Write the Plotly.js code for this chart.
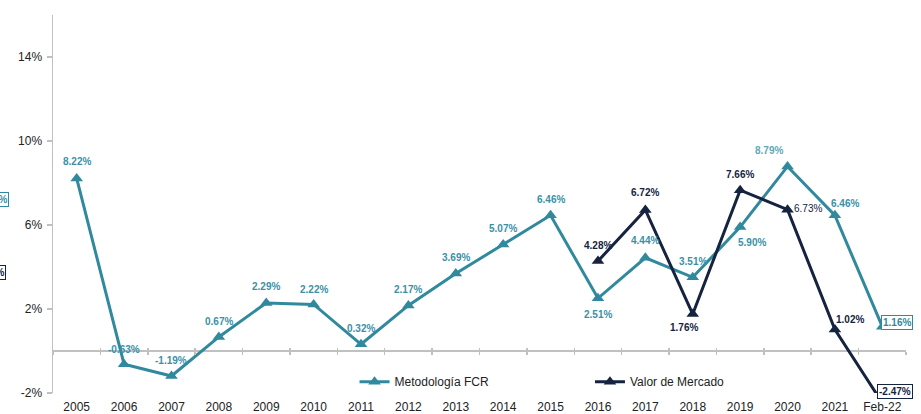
<!DOCTYPE html>
<html><head><meta charset="utf-8">
<script src="https://cdn.plot.ly/plotly-3.0.1.min.js"></script>
<style>html,body{margin:0;padding:0;background:#fff;overflow:hidden}#chart{width:921px;height:414px}</style>
</head><body><div id="chart"></div>
<script>
var categories = ['2005','2006','2007','2008','2009','2010','2011','2012','2013','2014','2015','2016','2017','2018','2019','2020','2021','Feb-22'];
var fcrValues = [8.22,-0.63,-1.19,0.67,2.29,2.22,0.32,2.17,3.69,5.07,6.46,2.51,4.44,3.51,5.90,8.79,6.46,1.16];
var marketCategories = ['2016','2017','2018','2019','2020','2021','Feb-22'];
var marketValues = [4.28,6.72,1.76,7.66,6.73,1.02,-2.47];
var yTickValues = [-2,2,6,10,14];
var seriesNames = ['Metodología FCR','Valor de Mercado'];

// label offsets (style only, px): [xshift, yshift, anchor]
var fcrLabelShift = [[0,17,'c'],[0,15,'c'],[0,15,'c'],[0,15,'c'],[0,16,'c'],[0,15,'c'],[0,16,'c'],[0,16,'c'],[0,16,'c'],[0,16,'c'],[0,16,'c'],[0,-16,'c'],[0,17,'c'],[0,16,'c'],[12,-15,'c'],[-19,16,'c'],[10,12,'c'],[-1,4,'l']];
var mktLabelShift = [[0,16,'c'],[0,17,'c'],[-9,-13,'c'],[0,16,'c'],[5,1,'l'],[0,10,'l'],[-5,11,'l']];

var teal = '#31899e', tealText = '#3b90a6', navy = '#15233f';
var yRange = [-2, 16];

var traces = [
  {x: categories, y: fcrValues, name: seriesNames[0], type: 'scatter', mode: 'lines+markers',
   line: {color: teal, width: 3}, marker: {symbol: 'triangle-up', size: 11, color: teal},
   cliponaxis: false, hoverinfo: 'skip', legend: 'legend'},
  {x: marketCategories, y: marketValues, name: seriesNames[1], type: 'scatter', mode: 'lines+markers',
   line: {color: navy, width: 3}, marker: {symbol: 'triangle-up', size: 11, color: navy},
   cliponaxis: false, hoverinfo: 'skip', legend: 'legend2'},
  {x: categories, y: fcrValues, xaxis: 'x2', type: 'scatter', mode: 'lines', opacity: 0, showlegend: false, hoverinfo: 'skip'},
  {x: categories, y: fcrValues, xaxis: 'x3', type: 'scatter', mode: 'lines', opacity: 0, showlegend: false, hoverinfo: 'skip'}
];

function fmt(v){ return v.toFixed(2) + '%'; }
function makeLabel(cat, v, shift, color, boxed, weight){
  var inRange = v >= yRange[0] && v <= yRange[1];
  return {x: categories.indexOf(cat), xref: 'x',
    y: inRange ? v : (v - yRange[0]) / (yRange[1] - yRange[0]), yref: inRange ? 'y' : 'paper',
    text: fmt(v), showarrow: false, xshift: shift[0], yshift: shift[1],
    xanchor: shift[2] === 'l' ? 'left' : 'center', yanchor: 'middle',
    font: {family: 'Liberation Sans, Arial', size: 10, color: color, weight: weight || 'bold'},
    bordercolor: boxed ? color : 'rgba(0,0,0,0)', borderwidth: boxed ? 1 : 0, borderpad: 1,
    bgcolor: boxed ? '#fff' : 'rgba(0,0,0,0)'};
}
var annotations = [];
fcrValues.forEach(function(v, i){
  var last = i === fcrValues.length - 1;
  annotations.push(makeLabel(categories[i], v, fcrLabelShift[i], i === 15 ? '#62a7b9' : (last ? teal : tealText), last));
});
marketValues.forEach(function(v, i){
  var last = i === marketValues.length - 1;
  annotations.push(makeLabel(marketCategories[i], v, mktLabelShift[i], navy, last, i === 4 ? 'normal' : 'bold'));
});
// cut-off boxes at the left edge
annotations.push({xref: 'paper', yref: 'paper', x: -0.052, y: 0.511, xanchor: 'right', text: '7.19%', showarrow: false,
  font: {family: 'Liberation Sans, Arial', size: 10, color: tealText, weight: 'bold'}, bordercolor: teal, borderwidth: 1, borderpad: 1, bgcolor: '#fff'});
annotations.push({xref: 'paper', yref: 'paper', x: -0.055, y: 0.30, xanchor: 'right', text: '3.38%', showarrow: false,
  font: {family: 'Liberation Sans, Arial', size: 10, color: navy, weight: 'bold'}, bordercolor: navy, borderwidth: 1, borderpad: 1, bgcolor: '#fff'});

var zeroPos = (0 - yRange[0]) / (yRange[1] - yRange[0]);
var layout = {
  width: 921, height: 414,
  margin: {l: 53, r: 15, t: 15, b: 21},
  paper_bgcolor: '#fff', plot_bgcolor: '#fff',
  font: {family: 'Liberation Sans, Arial, sans-serif', size: 12, color: '#222'},
  xaxis: {type: 'category', range: [-0.5, 17.5], showline: false, showgrid: false, zeroline: false, ticks: '',
    tickfont: {size: 12, color: '#222'}, ticklabelstandoff: 5, fixedrange: true},
  xaxis2: {type: 'category', overlaying: 'x', matches: 'x', anchor: 'free', position: zeroPos, side: 'bottom',
    showline: false, showgrid: false, zeroline: false, ticks: 'outside', tickson: 'boundaries', ticklen: 3, tickwidth: 1.5,
    tickcolor: '#c0c0c0', showticklabels: false},
  xaxis3: {type: 'category', overlaying: 'x', matches: 'x', anchor: 'free', position: zeroPos, side: 'bottom',
    showline: false, showgrid: false, zeroline: false, ticks: 'inside', tickson: 'boundaries', ticklen: 3, tickwidth: 1.5,
    tickcolor: '#c0c0c0', showticklabels: false},
  yaxis: {range: yRange, tickvals: yTickValues, ticktext: yTickValues.map(function(v){return v + '%';}),
    showline: true, linecolor: '#c0c0c0', linewidth: 1.5, ticks: 'outside', ticklen: 5, tickwidth: 1.5, tickcolor: '#c0c0c0',
    showgrid: false, zeroline: true, zerolinecolor: '#c0c0c0', zerolinewidth: 1.5, tickfont: {size: 12, color: '#222'}, ticklabelstandoff: 2},
  showlegend: true,
  legend: {orientation: 'h', x: 0.3535, y: 0.03, xanchor: 'left', yanchor: 'middle', bgcolor: 'rgba(0,0,0,0)', font: {size: 12, color: '#222'}},
  legend2: {orientation: 'h', x: 0.6295, y: 0.03, xanchor: 'left', yanchor: 'middle', bgcolor: 'rgba(0,0,0,0)', font: {size: 12, color: '#222'}},
  annotations: annotations
};
Plotly.newPlot('chart', traces, layout, {staticPlot: true, displayModeBar: false});
</script></body></html>
